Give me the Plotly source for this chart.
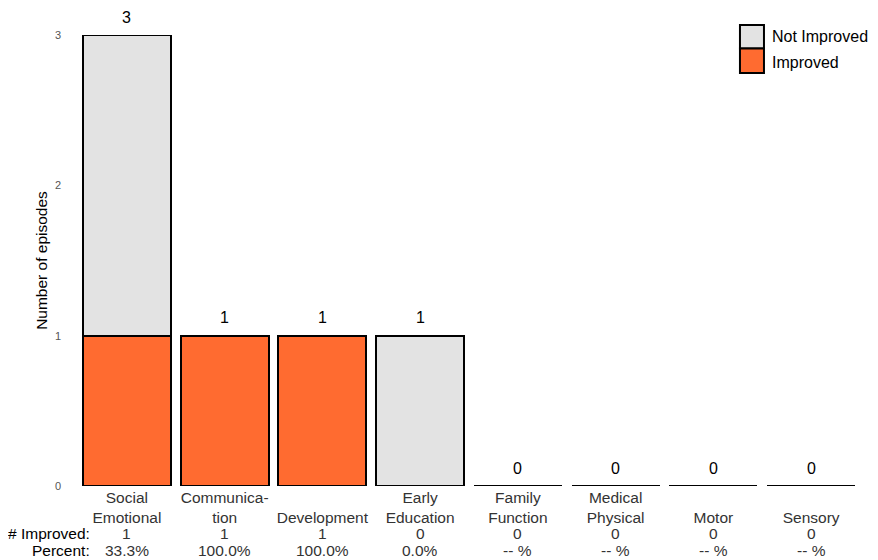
import plotly.graph_objects as go

categories = ["Social Emotional", "Communication", "Development", "Early Education",
              "Family Function", "Medical Physical", "Motor", "Sensory"]
tick_names = ["Social<br>Emotional", "Communica-<br>tion", "<br>Development", "Early<br>Education",
              "Family<br>Function", "Medical<br>Physical", "<br>Motor", "<br>Sensory"]
improved = [1, 1, 1, 0, 0, 0, 0, 0]
not_improved = [2, 0, 0, 1, 0, 0, 0, 0]

totals = [a + b for a, b in zip(improved, not_improved)]
percents = [("%.1f%%" % (100.0 * i / t)) if t > 0 else "-- %" for i, t in zip(improved, totals)]

ORANGE = "#FF6B30"
GRAY = "#E3E3E3"
FONT = "Liberation Sans, Arial, sans-serif"
FS = 15.5

fig = go.Figure()
fig.add_trace(go.Bar(x=categories, y=improved, name="Improved", showlegend=False,
                     marker=dict(color=ORANGE, line=dict(color="black", width=2))))
fig.add_trace(go.Bar(x=categories, y=not_improved, name="Not Improved", showlegend=False,
                     marker=dict(color=GRAY, line=dict(color="black", width=2))))

annotations = []
# value labels above the stacks
for c, t in zip(categories, totals):
    annotations.append(dict(x=c, y=t, xref="x", yref="y", text=str(t), showarrow=False,
                            yanchor="middle", yshift=18, font=dict(size=16, color="black")))
# count and percent rows
for c, i, p in zip(categories, improved, percents):
    annotations.append(dict(x=c, y=-0.1064, xref="x", yref="paper", text=str(i), showarrow=False,
                            yanchor="middle", font=dict(size=FS, color="#333333")))
    annotations.append(dict(x=c, y=-0.1441, xref="x", yref="paper", text=p, showarrow=False,
                            yanchor="middle", font=dict(size=FS, color="#333333")))
annotations += [
    dict(text="# Improved:", xref="paper", yref="paper", x=0.0185, y=-0.1064,
         xanchor="right", yanchor="middle", showarrow=False, font=dict(size=FS, color="black")),
    dict(text="Percent:", xref="paper", yref="paper", x=0.0185, y=-0.1441,
         xanchor="right", yanchor="middle", showarrow=False, font=dict(size=FS, color="black")),
]
# manual legend (large swatches)
legend_items = [("Not Improved", GRAY, 1.0222, 0.9701, 0.9956),
                ("Improved", ORANGE, 0.9701, 0.9157, 0.9401)]
shapes = []
for name, col, y0, y1, ty in legend_items:
    shapes.append(dict(type="rect", xref="paper", yref="paper", x0=0.8465, x1=0.8772, y0=y1, y1=y0,
                       fillcolor=col, line=dict(color="black", width=2), layer="above"))
    annotations.append(dict(text=name, xref="paper", yref="paper", x=0.8855, y=ty, xanchor="left",
                            yanchor="middle", showarrow=False, font=dict(size=16, color="black")))

fig.update_layout(
    width=870, height=552,
    barmode="stack", bargap=0.1,
    plot_bgcolor="white", paper_bgcolor="white",
    margin=dict(l=70, r=18, t=27, b=74),
    font=dict(family=FONT, size=FS, color="#333333"),
    showlegend=False,
    xaxis=dict(tickmode="array", tickvals=categories, ticktext=tick_names,
               showgrid=False, zeroline=False, showline=False, ticks="", automargin=False,
               tickfont=dict(size=FS, color="#333333")),
    yaxis=dict(range=[0, 3], tickvals=[0, 1, 2, 3], showgrid=False, zeroline=False,
               showline=False, ticks="", automargin=False, ticklabelstandoff=16,
               tickfont=dict(size=11, color="#555555"),
               title=dict(text="Number of episodes", font=dict(size=FS, color="black"), standoff=3)),
    annotations=annotations,
    shapes=shapes,
)

fig.write_html("out.html")
